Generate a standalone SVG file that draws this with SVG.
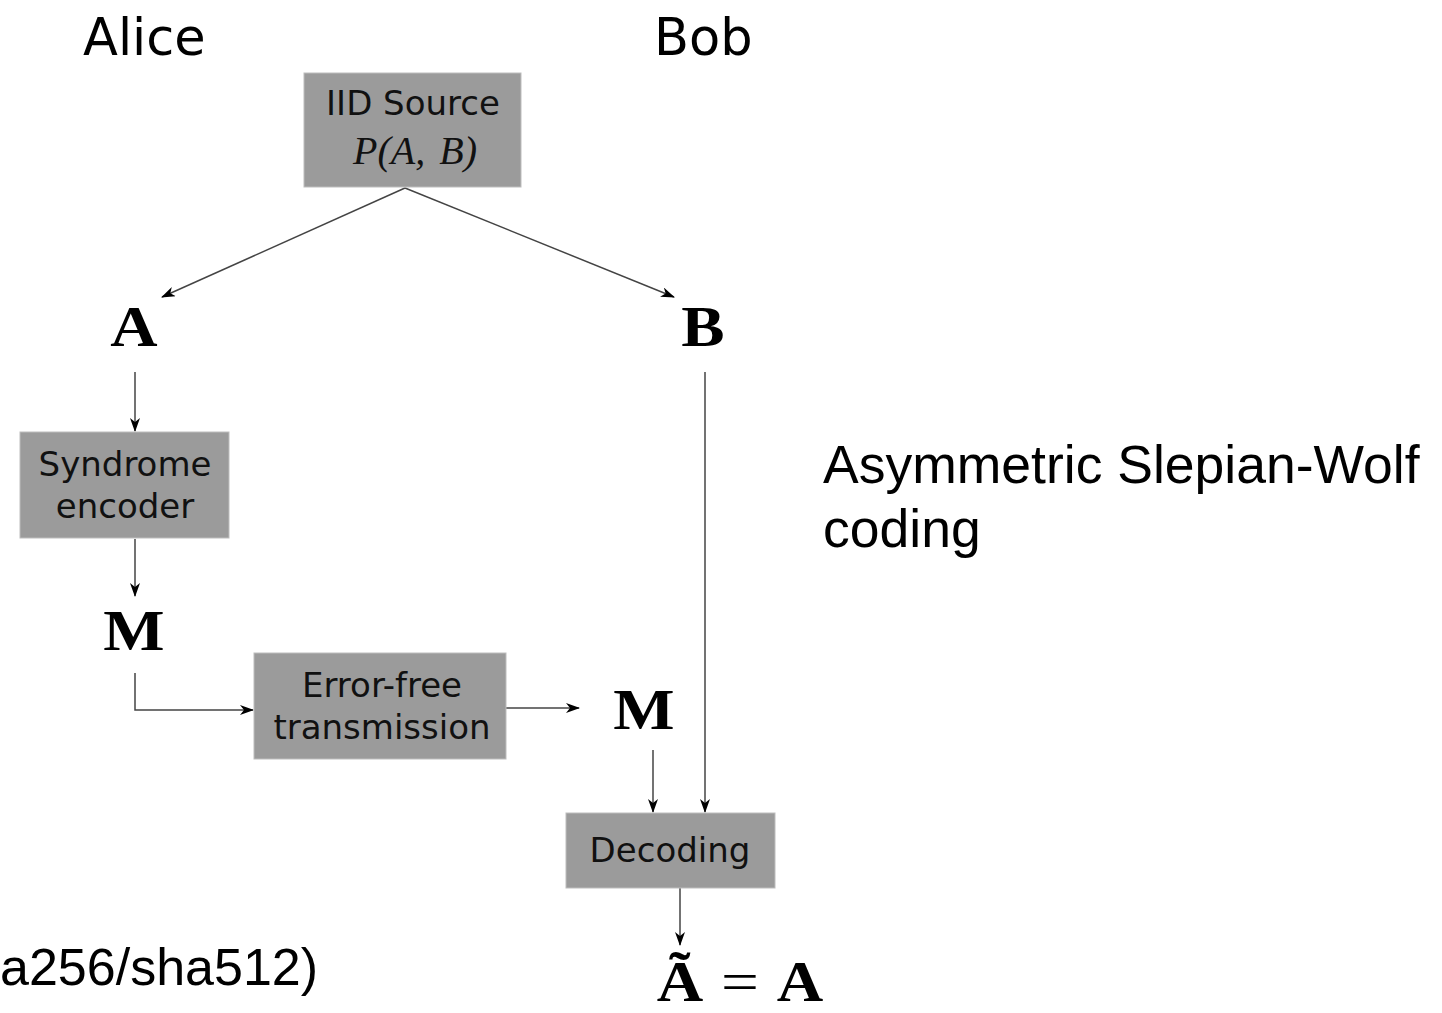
<svg xmlns="http://www.w3.org/2000/svg" width="1442" height="1013" viewBox="0 0 1442 1013">
  <style>
    .box { fill: #9b9b9b; stroke: #bdbdbd; stroke-width: 1; }
    .lbl { font-family: "DejaVu Sans", sans-serif; font-size: 34px; fill: #111; text-anchor: middle; }
    .head { font-family: "DejaVu Sans", sans-serif; font-size: 51px; fill: #000; }
    .math { font-family: "Liberation Serif", "DejaVu Serif", serif; font-weight: bold; font-size: 58px; fill: #000; text-anchor: middle; }
    .mathi { font-family: "Liberation Serif", "DejaVu Serif", serif; font-style: italic; font-size: 40px; fill: #111; text-anchor: middle; }
    .note { font-family: "Liberation Sans", Arial, sans-serif; font-size: 53.5px; fill: #000; }
    .edge { fill: none; stroke: #444; stroke-width: 1.5; marker-end: url(#tip); }
  </style>
  <defs>
    <marker id="tip" viewBox="0 0 14 10" refX="13" refY="5" markerWidth="14" markerHeight="10" markerUnits="userSpaceOnUse" orient="auto">
      <path d="M0,0 L14,5 L0,10 L4,5 Z" fill="#000"/>
    </marker>
  </defs>

  <rect width="1442" height="1013" fill="#fff"/>

  <!-- column headings -->
  <text class="head" x="83" y="55">Alice</text>
  <text class="head" x="654" y="55">Bob</text>

  <!-- connectors -->
  <g id="connectors">
    <line class="edge" x1="405" y1="188" x2="162" y2="297"/>
    <line class="edge" x1="405" y1="188" x2="674" y2="297"/>
    <line class="edge" x1="135" y1="372" x2="135" y2="431"/>
    <line class="edge" x1="135" y1="539" x2="135" y2="596"/>
    <polyline class="edge" points="135,673 135,710 253,710"/>
    <line class="edge" x1="506" y1="708" x2="579" y2="708"/>
    <line class="edge" x1="653" y1="750" x2="653" y2="812"/>
    <line class="edge" x1="705" y1="372" x2="705" y2="812"/>
    <line class="edge" x1="680" y1="888" x2="680" y2="945"/>
  </g>

  <g id="iid-source">
    <rect class="box" x="304" y="73" width="217" height="114"/>
    <text class="lbl" x="413" y="115">IID Source</text>
    <text class="mathi" x="415" y="164" word-spacing="4">P(A, B)</text>
  </g>

  <!-- bold math symbols, widened to an extended bold face -->
  <g id="var-a">
    <text class="math" transform="translate(134,346) scale(1.13,1)">A</text>
  </g>

  <g id="var-b">
    <text class="math" transform="translate(703,346) scale(1.12,1)">B</text>
  </g>

  <g id="syndrome-encoder">
    <rect class="box" x="20" y="432" width="209" height="106"/>
    <text class="lbl" x="125" y="476">Syndrome</text>
    <text class="lbl" x="125" y="518">encoder</text>
  </g>

  <g id="msg-alice">
    <text class="math" transform="translate(134,650) scale(1.12,1)">M</text>
  </g>

  <g id="error-free">
    <rect class="box" x="254" y="653" width="252" height="106"/>
    <text class="lbl" x="382" y="697">Error-free</text>
    <text class="lbl" x="382" y="739">transmission</text>
  </g>

  <g id="msg-bob">
    <text class="math" transform="translate(644,729) scale(1.12,1)">M</text>
  </g>

  <g id="decoding">
    <rect class="box" x="566" y="813" width="209" height="75"/>
    <text class="lbl" x="670" y="862">Decoding</text>
  </g>

  <g id="result">
    <text class="math" style="font-size:56px" transform="translate(680,1001) scale(1.15,1)">Ã</text>
    <text class="math" transform="translate(740,1001) scale(1.2,1)" style="font-size:56px;font-weight:normal">=</text>
    <text class="math" style="font-size:56px" transform="translate(800,1001) scale(1.15,1)">A</text>
  </g>

  <!-- side notes -->
  <text class="note" x="823" y="483">Asymmetric Slepian-Wolf</text>
  <text class="note" x="823" y="547">coding</text>
  <text class="note" x="0" y="985" style="font-size:52px">a256/sha512)</text>
</svg>
